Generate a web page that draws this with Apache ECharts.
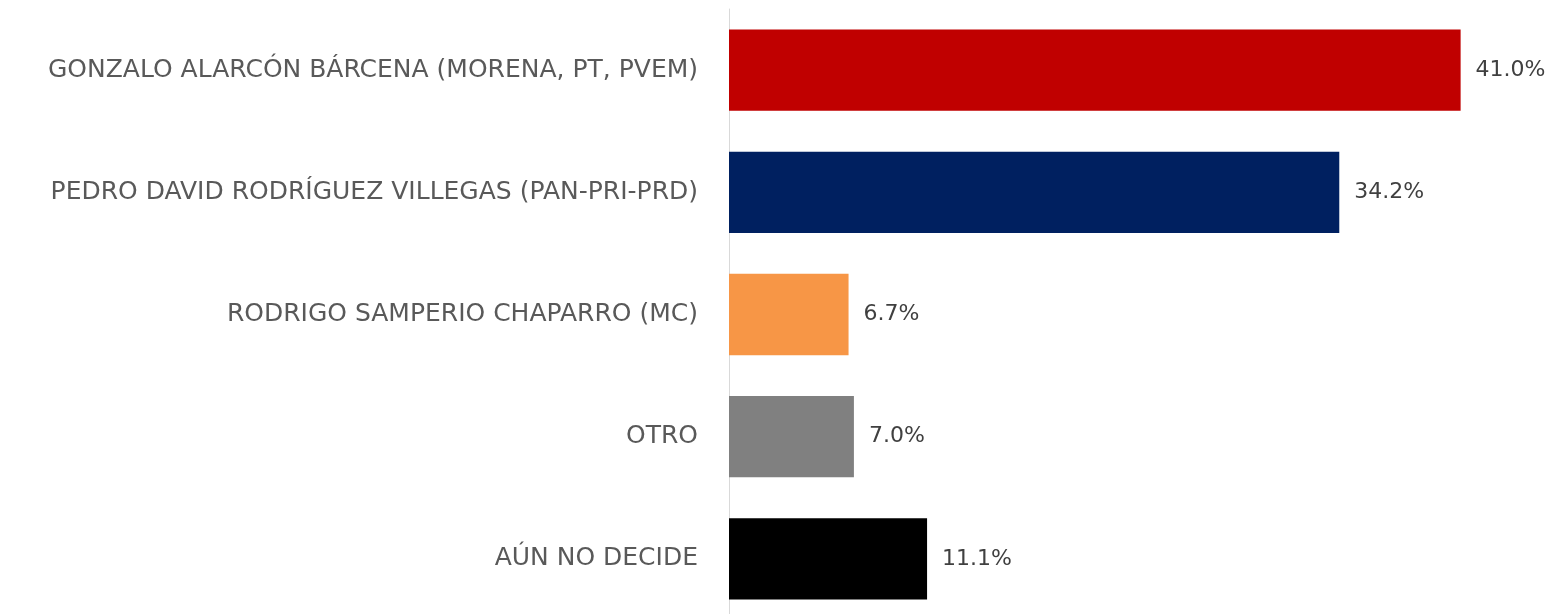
<!DOCTYPE html>
<html>
<head>
<meta charset="utf-8">
<script src="https://cdn.jsdelivr.net/npm/echarts@6/dist/echarts.min.js"></script>
<style>
html, body { margin: 0; padding: 0; background: #fff; }
#chart { width: 1550px; height: 614px; }
</style>
</head>
<body>
<div id="chart"></div>
<script>
// categorias (de arriba hacia abajo)
var candidatos = [
    'GONZALO ALARCÓN BÁRCENA (MORENA, PT, PVEM)',
    'PEDRO DAVID RODRÍGUEZ VILLEGAS (PAN-PRI-PRD)',
    'RODRIGO SAMPERIO CHAPARRO (MC)',
    'OTRO',
    'AÚN NO DECIDE'
];
var porcentajes = [41.0, 34.2, 6.7, 7.0, 11.1];
var colores = ['#C00000', '#002060', '#F79646', '#808080', '#000000'];

var chart = echarts.init(document.getElementById('chart'));

var datos = [];
for (var i = 0; i < porcentajes.length; i++) {
    datos.push({ value: porcentajes[i], itemStyle: { color: colores[i] } });
}

var fuente = 'DejaVu Sans';

var option = {
    animation: false,
    grid: {
        left: 729,
        top: 9,
        width: 803,
        height: 611,
        outerBoundsMode: 'none'
    },
    xAxis: {
        type: 'value',
        min: 0,
        max: 45,
        show: false
    },
    yAxis: {
        type: 'category',
        inverse: true,
        data: candidatos,
        axisLine: { show: true, lineStyle: { color: '#D9D9D9', width: 1 } },
        axisTick: { show: false },
        axisLabel: {
            margin: 31,
            color: '#595959',
            fontSize: 25,
            fontFamily: fuente
        }
    },
    series: [{
        type: 'bar',
        data: datos,
        barCategoryGap: '33.5%',
        label: {
            show: true,
            position: 'right',
            distance: 15,
            color: '#404040',
            fontSize: 22,
            fontFamily: fuente,
            formatter: function (p) {
                return p.value.toFixed(1) + '%';
            }
        }
    }]
};
chart.setOption(option);
</script>
</body>
</html>
